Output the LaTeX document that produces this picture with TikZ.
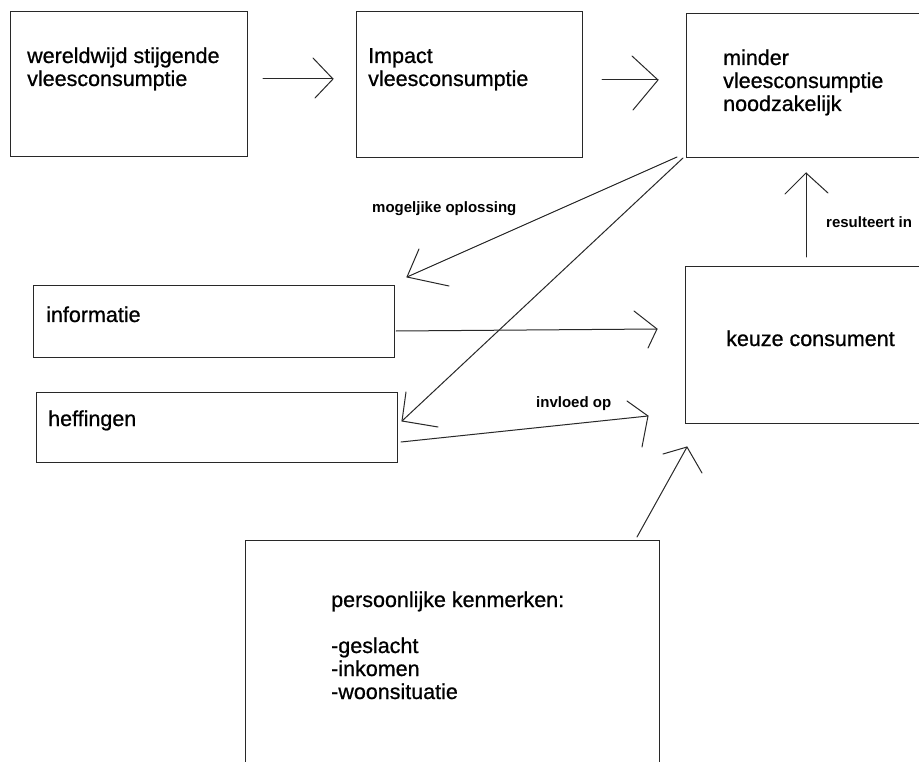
\documentclass[tikz,border=0pt]{standalone}
\usepackage{fontspec}
\setmainfont{Liberation Sans}
\newfontfamily\heavyfont{Liberation Sans}[FakeBold=0.8]
\definecolor{linec}{RGB}{40,40,40}
\begin{document}
\begin{tikzpicture}[x=1pt,y=-1pt,
  box/.style={draw=linec, line width=1pt, inner sep=0pt, anchor=north west},
  conn/.style={draw=linec, line width=1pt, line cap=round, line join=round},
  txt/.style={anchor=base west, inner sep=0pt, font=\heavyfont\fontsize{21.5}{23}\selectfont},
  lbl/.style={anchor=base west, inner sep=0pt, font=\bfseries\fontsize{15}{17}\selectfont}]
\useasboundingbox (0,0) rectangle (919,762);
\clip (0,0) rectangle (919,762);
\fill[white] (0,0) rectangle (919,762);

% boxes
\node[box, minimum width=237pt, minimum height=145pt] (b1) at (10,11) {};
\node[box, minimum width=226pt, minimum height=146pt] (b2) at (356,11) {};
\node[box, minimum width=245pt, minimum height=144pt] (b3) at (686,13) {};
\node[box, minimum width=361pt, minimum height=72pt] (info) at (33,285) {};
\node[box, minimum width=361pt, minimum height=70pt] (heff) at (36,392) {};
\node[box, minimum width=245pt, minimum height=157pt] (keuze) at (685,266) {};
\node[box, minimum width=414pt, minimum height=240pt] (pers) at (245,540) {};

% texts
\node[txt] (t1) at (27,63) {\begin{tabular}[t]{@{}l@{}}wereldwijd stijgende\\vleesconsumptie\end{tabular}};
\node[txt] (t2) at (368,63) {\begin{tabular}[t]{@{}l@{}}Impact\\vleesconsumptie\end{tabular}};
\node[txt] (t3) at (723,65) {\begin{tabular}[t]{@{}l@{}}minder\\vleesconsumptie\\noodzakelijk\end{tabular}};
\node[txt] (t4) at (46,322) {informatie};
\node[txt] (t5) at (48,426) {heffingen};
\node[txt] (t6) at (726,346) {keuze consument};
\node[txt] (t7) at (331,607) {\begin{tabular}[t]{@{}l@{}}persoonlijke kenmerken:\\ \\-geslacht\\-inkomen\\-woonsituatie\end{tabular}};

% labels
\node[lbl] (l1) at (372,213) {mogeljike oplossing};
\node[lbl] (l2) at (826,228) {resulteert in};
\node[lbl] (l3) at (536,407) {invloed op};

% connector end points
\coordinate (a1s) at (263,79);  \coordinate (a1e) at (333,79);
\coordinate (a2s) at (602,80);  \coordinate (a2e) at (658,80);
\coordinate (a3s) at (677,157); \coordinate (a3e) at (407,277);
\coordinate (a4s) at (683,158); \coordinate (a4e) at (402,421);
\coordinate (a5s) at (396,331); \coordinate (a5e) at (657,329);
\coordinate (a6s) at (401,442); \coordinate (a6e) at (648,416);
\coordinate (a7s) at (806,257); \coordinate (a7e) at (806,173);
\coordinate (a8s) at (637,537); \coordinate (a8e) at (687,447);

% connectors with hand-drawn open heads
\draw[conn] (a1s) -- (a1e);
\draw[conn] (313,58) -- (a1e) -- (315,98);
\draw[conn] (a2s) -- (a2e);
\draw[conn] (632,56) -- (a2e) -- (633,110);
\draw[conn] (a3s) -- (a3e);
\draw[conn] (419,249) -- (a3e) -- (449,286);
\draw[conn] (a4s) -- (a4e);
\draw[conn] (406,392) -- (a4e) -- (438,427);
\draw[conn] (a5s) -- (a5e);
\draw[conn] (634,311) -- (a5e) -- (648,348);
\draw[conn] (a6s) -- (a6e);
\draw[conn] (627,401) -- (a6e) -- (642,447);
\draw[conn] (a7s) -- (a7e);
\draw[conn] (785,194) -- (a7e) -- (828,193);
\draw[conn] (a8s) -- (a8e);
\draw[conn] (663,454) -- (a8e) -- (702,473);
\end{tikzpicture}
\end{document}
